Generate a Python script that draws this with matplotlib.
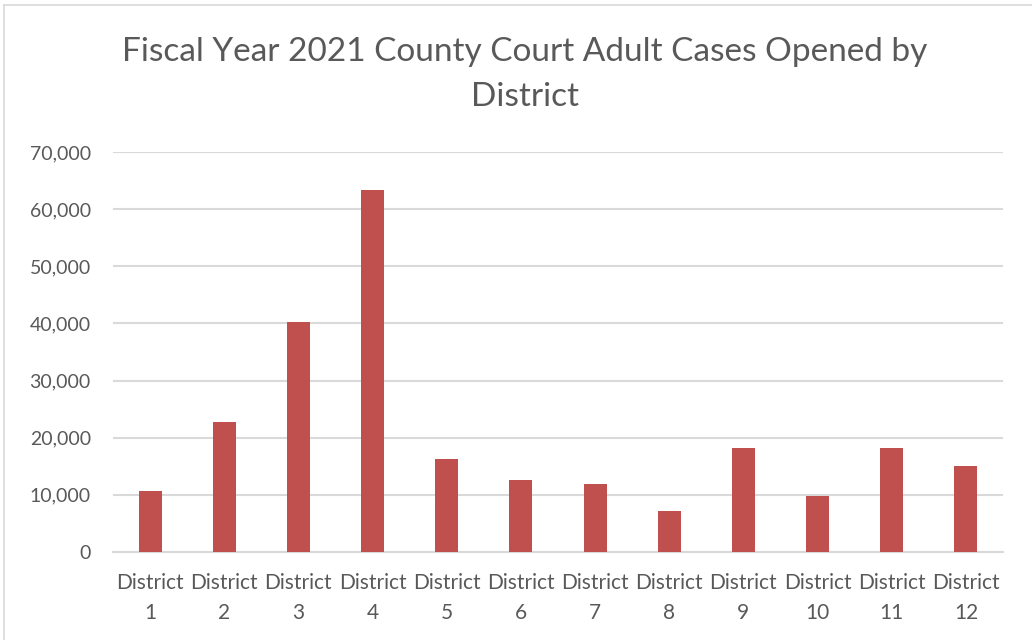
import matplotlib
matplotlib.use("Agg")
import matplotlib.pyplot as plt
from matplotlib.lines import Line2D
from matplotlib.ticker import FuncFormatter

# values
districts = ["District\n%d" % i for i in range(1, 13)]
cases = [10690, 22780, 40330, 63280, 16330, 12560,
         11860, 7090, 18200, 9770, 18200, 15060]
y_ticks = [0, 10000, 20000, 30000, 40000, 50000, 60000, 70000]

bar_color = "#C0504D"
text_color = "#595959"
grid_color = "#D9D9D9"

plt.rcParams["font.family"] = ["Lato", "DejaVu Sans"]

fig = plt.figure(figsize=(10.32, 6.4), dpi=100)
ax = fig.add_axes([113 / 1032, 1 - 552 / 640, 890 / 1032, 400 / 640])

x = list(range(len(cases)))
ax.bar(x, cases, width=0.31, color=bar_color, zorder=3)

ax.set_xlim(-0.5, len(cases) - 0.5)
ax.set_ylim(0, 70000)
ax.set_yticks(y_ticks)
ax.yaxis.set_major_formatter(FuncFormatter(lambda v, p: f"{int(v):,}"))
ax.set_xticks(x)
ax.set_xticklabels(districts, linespacing=1.65)

ax.grid(axis="y", color=grid_color, linewidth=1.5, zorder=0)
for side in ["top", "right", "left"]:
    ax.spines[side].set_visible(False)
ax.spines["bottom"].set_color(grid_color)
ax.spines["bottom"].set_linewidth(1.5)
ax.tick_params(axis="both", length=0, colors=text_color)
ax.tick_params(axis="x", labelsize=15, pad=15)
ax.tick_params(axis="y", labelsize=14, pad=16)

fig.text(525 / 1032, 1 - 52 / 640, "Fiscal Year 2021 County Court Adult Cases Opened by",
         ha="center", va="center", fontsize=24, color=text_color)
fig.text(525 / 1032, 1 - 97 / 640, "District",
         ha="center", va="center", fontsize=24, color=text_color)

# chart border (left and top edges visible)
fig.add_artist(Line2D([4 / 1032, 4 / 1032], [0, 1 - 5 / 640],
                      transform=fig.transFigure, color=grid_color, linewidth=1.2))
fig.add_artist(Line2D([4 / 1032, 1], [1 - 5 / 640, 1 - 5 / 640],
                      transform=fig.transFigure, color=grid_color, linewidth=1.2))

fig.savefig("out.png", dpi=100)
